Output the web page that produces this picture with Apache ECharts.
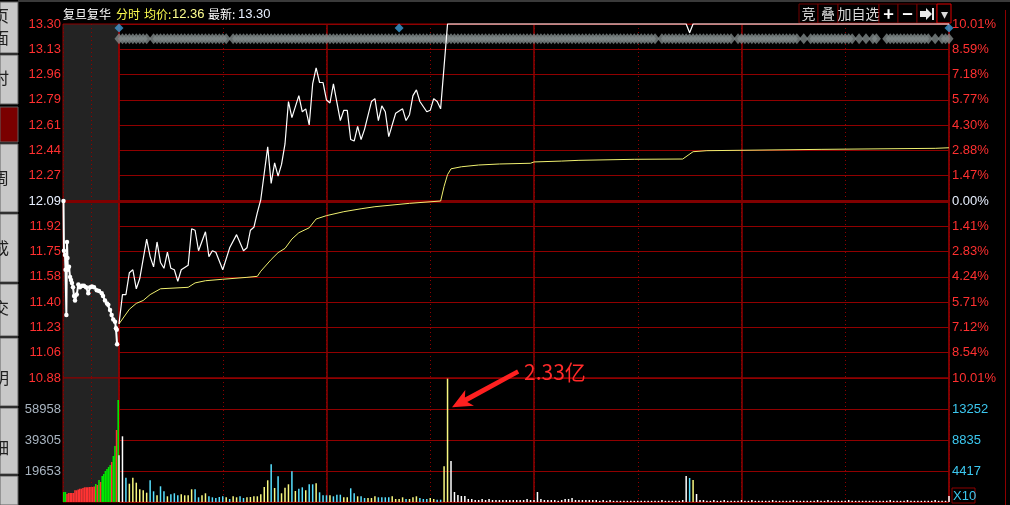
<!DOCTYPE html>
<html>
<head>
<meta charset="utf-8">
<script src="https://cdn.jsdelivr.net/npm/echarts@6/dist/echarts.min.js"></script>
<style>html,body{margin:0;padding:0;background:#000;}#d{width:1010px;height:505px;}</style>
</head>
<body>
<div id="d"></div>
<script>
var preClose=12.09, limitUp=13.30;
// 刻度文字
var priceTicks=['10.88','11.06','11.23','11.40','11.58','11.75','11.92','12.09','12.27','12.44','12.61','12.79','12.96','13.13','13.30'];
var pctTicks=['10.01%','8.54%','7.12%','5.71%','4.24%','2.83%','1.41%','0.00%','1.47%','2.88%','4.30%','5.77%','7.18%','8.59%','10.01%'];
var volTicks=['','19653','39305','58958',''];
var amtTicks=['','4417','8835','13252',''];
var volMax=78612;
// 集合竞价 [位置, 价格]
var prePrice=[[0.3,12.09],[0.6,11.75],[1.25,11.72],[1.6,11.62],[2.1,11.31],[2.5,11.81],[2.8,11.70],[3.1,11.62],[3.75,11.64],[4.4,11.57],[5,11.55],[5.6,11.53],[6.25,11.50],[6.9,11.44],[7.5,11.41],[8.6,11.45],[9.6,11.52],[10.6,11.50],[11.9,11.51],[13.1,11.51],[14.4,11.50],[15.8,11.46],[16.9,11.50],[18.1,11.505],[19.4,11.50],[21.1,11.48],[22.5,11.475],[24.2,11.46],[25,11.44],[26.25,11.41],[27.5,11.39],[28.3,11.38],[29.4,11.345],[30.4,11.31],[31.4,11.28],[32.5,11.265],[33.1,11.22],[33.6,11.21],[33.8,11.11]];
var preVol=[6340,6340,5070,5710,5710,5710,5710,7420,7420,7930,8430,8430,8880,9320,9320,9320,9510,9510,9510,9830,11410,10780,13950,12680,16480,17750,19650,20920,22190,23460,25360,29160,35500,45650,64670];
var preTone='gg'+'rrrrrrrrrrrrrrrrrr'+'grgr'+'gggggg'+'rggrg';
// 分时 [分钟, 价格]
var mainPrice=[[0,11.25],[1,11.45],[2,11.45],[3,11.60],[4,11.62],[5,11.49],[6,11.56],[8,11.83],[9,11.71],[10,11.64],[11,11.81],[12,11.67],[13,11.63],[14,11.74],[15,11.63],[16,11.62],[17,11.54],[18,11.62],[20,11.65],[21,11.90],[22,11.89],[23,11.75],[25,11.88],[26,11.71],[27,11.75],[28,11.74],[30,11.62],[32,11.77],[34,11.86],[36,11.75],[37,11.77],[38,11.89],[39,11.91],[40,12.01],[41,12.10],[42,12.28],[43,12.46],[44,12.21],[45,12.35],[46,12.26],[47,12.34],[48,12.48],[49,12.77],[50,12.66],[52,12.81],[53,12.70],[54,12.72],[55,12.61],[56,12.89],[57,13.00],[58,12.90],[59,12.90],[60,12.78],[61,12.76],[62,12.89],[64,12.64],[65,12.71],[66,12.71],[67,12.51],[68,12.50],[69,12.60],[70,12.51],[71,12.58],[73,12.77],[74,12.79],[75,12.64],[76,12.74],[77,12.70],[78,12.53],[79,12.61],[80,12.69],[82,12.72],[83,12.64],[84,12.68],[85,12.81],[86,12.85],[87,12.77],[89,12.70],[90,12.71],[91,12.79],[92,12.77],[93,12.72],[94,13.01],[95,13.30],[164,13.30],[165,13.24],[166,13.30],[240,13.30]];
var avgPrice=[[0,11.25],[3,11.35],[5,11.39],[7,11.41],[9,11.45],[12,11.49],[20,11.50],[22,11.53],[25,11.545],[30,11.555],[37,11.568],[40,11.575],[41,11.61],[44,11.69],[46,11.737],[48,11.766],[50,11.83],[52,11.873],[55,11.907],[57,11.967],[60,11.99],[65,12.017],[70,12.037],[74,12.051],[84,12.074],[93,12.09],[94,12.19],[95,12.27],[96,12.31],[99,12.324],[104,12.336],[110,12.343],[119,12.348],[120,12.357],[128,12.363],[133,12.368],[149,12.375],[163,12.377],[166,12.427],[170,12.434],[203,12.443],[236,12.45],[240,12.454]];
var mainVol=[29600,41650,15400,11600,15400,12240,8050,7420,5900,13760,
6780,4250,9950,6780,3610,4880,5520,4250,4880,4250,
4250,8050,8050,2980,4250,5520,3610,2980,2540,3170,
3610,2980,1900,3610,2980,3610,2540,2980,3170,3610,
3610,4880,9510,13760,23900,8880,16290,5520,9070,11220,
19460,6970,8430,9320,7420,11220,11220,11860,6150,4250,
4250,4250,3610,4630,4630,2980,2980,8690,5520,3610,
3610,2540,2540,2540,3610,2980,2980,2980,2980,3610,
1900,1900,2980,1900,1900,2980,3610,2540,1900,1900,
2540,1900,1460,1460,22630,78200,26000,
6340,4440,3800,3800,1900,1900,1270,1270,1900,1270,
1900,1270,1270,1270,1270,1270,1270,1270,1270,1270,
1270,1900,1270,1270,6340,1900,1270,1270,1270,1270,
760,1270,1900,1900,2540,1270,1270,1270,1270,1270,
1270,1270,760,1270,760,1270,760,760,760,760,
760,760,760,760,760,760,760,760,760,760,
1270,760,760,760,760,760,1270,16480,15220,13950,
5070,1270,1270,760,760,1270,760,760,1270,760,
760,760,760,1270,760,760,1270,760,760,760,
760,760,1270,760,760,760,760,760,1270,760,
760,760,760,760,760,1270,760,760,1270,760,
760,760,760,760,1270,760,760,760,760,760,
760,760,760,760,760,760,1270,760,760,760,
760,1270,760,760,760,760,760,760,760,1270,
760,760,760,3800];
var volTone='wwcyyyyyyc'+'cyccycccyy'+'yyccyycccc'+'cycyyccyyy'+'yyyycycyyy'+'cyccyccycc'+'cycccyyccy'+'ccyyyccccy'+'yyycyyyccc'+'yyccyyw'+'w'.repeat(68)+'cy'+'w'.repeat(74);
var flagIdx=[0,81,240];
var stripPrice=13.20;
var stripGaps=[9,32,156,178,197,199,213,215,217,220,221,235,237];

var toneColor={w:'#ffffff',y:'#f8f880',c:'#58e0ff',r:'#ff3333',g:'#00e800'};
var grid='#900000';
function pct(p){return (p-preClose)/preClose*100;}
var lim=pct(limitUp), step=lim/7, volStep=volMax/4;
function pIdx(v){return Math.round((v+lim)/step);}
function tickColor(v){var i=pIdx(v);return i<7?'#00e000':(i==7?'#e8f0ff':'#ff3030');}
var lblFont='Liberation Sans';

var stripData=[];
for(var i=0;i<=240;i++){ if(stripGaps.indexOf(i)<0) stripData.push([i,pct(stripPrice)]); }

var myChart=echarts.init(document.getElementById('d'));
var thick={silent:true,symbol:'none',animation:false,label:{show:false},
  lineStyle:{color:'#800000',width:3,type:'solid'},data:[{yAxis:0},{yAxis:-lim}]};
option={
  backgroundColor:'#000',
  animation:false,
  grid:[
    {left:63,top:24,width:56,height:354,show:true,backgroundColor:'#232323',borderColor:grid,borderWidth:1,outerBoundsMode:'none'},
    {left:119,top:24,width:830,height:354,show:true,backgroundColor:'transparent',borderColor:grid,borderWidth:1,outerBoundsMode:'none'},
    {left:63,top:378,width:56,height:124,show:true,backgroundColor:'#232323',borderColor:grid,borderWidth:1,outerBoundsMode:'none'},
    {left:119,top:378,width:830,height:124,show:true,backgroundColor:'transparent',borderColor:grid,borderWidth:1,outerBoundsMode:'none'}
  ],
  xAxis:[
    {gridIndex:0,type:'value',min:0,max:35,interval:17.5,axisLine:{show:false},axisTick:{show:false},axisLabel:{show:false},splitLine:{show:true,lineStyle:{color:grid,type:[1,3]}}},
    {gridIndex:1,type:'value',min:0,max:240,interval:30,axisLine:{show:false},axisTick:{show:false},axisLabel:{show:false},splitLine:{show:true,lineStyle:{color:grid,type:[1,3]}}},
    {gridIndex:1,type:'value',min:0,max:240,interval:60,axisLine:{show:false},axisTick:{show:false},axisLabel:{show:false},splitLine:{show:true,lineStyle:{color:grid,width:1.5}}},
    {gridIndex:2,type:'value',min:0,max:35,interval:17.5,axisLine:{show:false},axisTick:{show:false},axisLabel:{show:false},splitLine:{show:true,lineStyle:{color:grid,type:[1,3]}}},
    {gridIndex:3,type:'value',min:0,max:240,interval:30,axisLine:{show:false},axisTick:{show:false},axisLabel:{show:false},splitLine:{show:true,lineStyle:{color:grid,type:[1,3]}}},
    {gridIndex:3,type:'value',min:0,max:240,interval:60,axisLine:{show:false},axisTick:{show:false},axisLabel:{show:false},splitLine:{show:true,lineStyle:{color:grid,width:1.5}}}
  ],
  yAxis:[
    {gridIndex:0,type:'value',min:-lim,max:lim,interval:step,position:'left',axisLine:{show:false},axisTick:{show:false},splitLine:{show:false},
      axisLabel:{margin:2,fontSize:13,fontFamily:lblFont,color:tickColor,formatter:function(v){return priceTicks[pIdx(v)]||'';}}},
    {gridIndex:1,type:'value',min:-lim,max:lim,interval:step,position:'right',axisLine:{show:false},axisTick:{show:false},splitLine:{show:true,lineStyle:{color:grid,width:1}},
      axisLabel:{margin:3,fontSize:13,fontFamily:lblFont,color:tickColor,formatter:function(v){return pctTicks[pIdx(v)]||'';}}},
    {gridIndex:2,type:'value',min:0,max:volMax,interval:volStep,position:'left',axisLine:{show:false},axisTick:{show:false},splitLine:{show:false},
      axisLabel:{margin:2,fontSize:13,fontFamily:lblFont,color:'#a8b4c0',formatter:function(v){return volTicks[Math.round(v/volStep)]||'';}}},
    {gridIndex:3,type:'value',min:0,max:volMax,interval:volStep,position:'right',axisLine:{show:false},axisTick:{show:false},splitLine:{show:true,lineStyle:{color:grid,width:1}},
      axisLabel:{margin:3,fontSize:13,fontFamily:lblFont,color:'#3cc8f0',formatter:function(v){return amtTicks[Math.round(v/volStep)]||'';}}}
  ],
  series:[
    {type:'line',xAxisIndex:0,yAxisIndex:0,data:prePrice.map(function(d){return [d[0],pct(d[1])];}),
      symbol:'circle',symbolSize:4.5,showSymbol:true,lineStyle:{color:'#fff',width:2},itemStyle:{color:'#fff'},clip:false,markLine:thick,z:5},
    {type:'scatter',xAxisIndex:1,yAxisIndex:1,data:stripData,symbol:'diamond',symbolSize:[9,11],itemStyle:{color:'#7f8888'},silent:true,z:3},
    {type:'scatter',xAxisIndex:1,yAxisIndex:1,data:flagIdx.map(function(i){return [i,lim];}),symbol:'diamond',symbolSize:9,symbolOffset:[0,4],itemStyle:{color:'#3c9bd4'},silent:true,z:4},
    {type:'line',xAxisIndex:1,yAxisIndex:1,data:avgPrice.map(function(d){return [d[0],pct(d[1])];}),
      symbol:'none',lineStyle:{color:'#f0f070',width:1},clip:false,z:5},
    {type:'line',xAxisIndex:1,yAxisIndex:1,data:mainPrice.map(function(d){return [d[0],pct(d[1])];}),
      symbol:'none',lineStyle:{color:'#ffffff',width:1.2},clip:false,markLine:thick,z:6},
    {type:'bar',xAxisIndex:3,yAxisIndex:2,barWidth:1.6,data:preVol.map(function(v,j){return {value:[j+0.5,v],itemStyle:{color:toneColor[preTone[j]]}};}),silent:true},
    {type:'bar',xAxisIndex:5,yAxisIndex:3,barWidth:1.5,data:mainVol.map(function(v,i){return {value:[i,v],itemStyle:{color:toneColor[volTone[i]]}};}),silent:true}
  ]
};
option && myChart.setOption(option);

// 标注与界面外框
var tip=myChart.convertToPixel({xAxisIndex:5,yAxisIndex:3},[96.3,60000]);
var tail=[tip[0]+66,tip[1]-36];
var dx=tail[0]-tip[0],dy=tail[1]-tip[1],L=Math.sqrt(dx*dx+dy*dy),ux=dx/L,uy=dy/L,nx=-uy,ny=ux;
function P(a,b){return [tip[0]+ux*a+nx*b,tip[1]+uy*a+ny*b];}
var arrowPts=[P(0,0),P(20,9),P(16,2.5),[tail[0]+nx*2.5,tail[1]+ny*2.5],[tail[0]-nx*2,tail[1]-ny*2],P(16,-2.5),P(20,-9)];

var g=[];
// 左侧按钮条
var panels=[[2,53,'#c8c8c8'],[55,104,'#c8c8c8'],[107,142,'#7a0000'],[144,212,'#c8c8c8'],[214,282,'#c8c8c8'],[284,336,'#c8c8c8'],[338,406,'#c8c8c8'],[408,474,'#c8c8c8'],[476,505,'#c8c8c8']];
panels.forEach(function(p){g.push({type:'rect',shape:{x:0,y:p[0],width:18,height:p[1]-p[0]},style:{fill:p[2],stroke:'#606060',lineWidth:1}});});
[['页',8],['面',30],['时',70],['周',170],['成',240],['交',300],['明',370],['细',440]].forEach(function(t){
  g.push({type:'text',x:-7,y:t[1],style:{text:t[0],fill:'#202020',font:'16px "Noto Sans CJK SC"'}});});
g.push({type:'rect',shape:{x:18,y:0,width:1010,height:2},style:{fill:'#3a3a3a'}});
g.push({type:'rect',shape:{x:1005,y:10,width:1,height:495},style:{fill:'#8c0000'}});
// 标题
var head=[['复旦复华',63,'#ffffff','12px "Noto Sans CJK SC"'],['分时',116,'#ffff50','12px "Noto Sans CJK SC"'],['均价:',144,'#ffff50','12px "Noto Sans CJK SC"'],
  ['12.36',172,'#ffff90','13px "Liberation Sans"'],['最新:',208,'#ffffff','12px "Noto Sans CJK SC"'],['13.30',238,'#e8f0ff','13px "Liberation Sans"']];
head.forEach(function(h){g.push({type:'text',x:h[1],y:14,style:{text:h[0],fill:h[2],font:h[3],verticalAlign:'middle'}});});
// 右上按钮
var btns=[[799,818,'竞'],[818,838,'叠'],[838,879,'加自选'],[879,898,'+'],[898,917,'−'],[917,937,''],[937,951,'▾']];
btns.forEach(function(b,k){
  g.push({type:'rect',shape:{x:b[0],y:4,width:b[1]-b[0],height:19},style:{fill:'#000',stroke:k==6?'#e00000':'#700000',lineWidth:1}});
  if(b[2]) g.push({type:'text',x:(b[0]+b[1])/2,y:14,style:{text:b[2],fill:(k==3||k==4)?'#ffffff':'#d8d8d8',
    font:(k==3||k==4?'bold 18px':'14px')+' "Noto Sans CJK SC"',align:'center',verticalAlign:'middle'}});
});
g.push({type:'polygon',shape:{points:[[920,11],[926,11],[926,8],[932,14],[926,20],[926,17],[920,17]]},style:{fill:'#e8e8e8'}});
g.push({type:'rect',shape:{x:932,y:8,width:2,height:12},style:{fill:'#e8e8e8'}});
// X10
g.push({type:'rect',shape:{x:952,y:488,width:23,height:15},style:{fill:'#000',stroke:'#8c0000',lineWidth:1}});
g.push({type:'text',x:953,y:496,style:{text:'X10',fill:'#3cc8f0',font:'13px "Liberation Sans"',verticalAlign:'middle'}});
// 2.33亿
g.push({type:'polygon',shape:{points:arrowPts},style:{fill:'#ff2020'},z:20});
g.push({type:'text',x:524,y:372,style:{text:'2.33亿',fill:'#ff2a2a',font:'21px "Noto Sans CJK SC"',verticalAlign:'middle'},z:20});
myChart.setOption({graphic:g});

window.addEventListener("resize",function(){myChart.resize();});
</script>
</body>
</html>
